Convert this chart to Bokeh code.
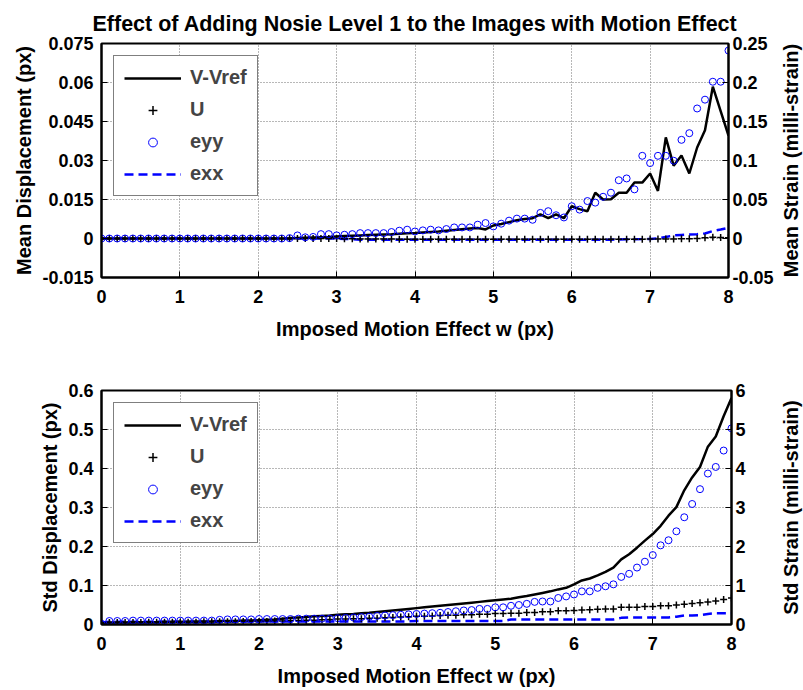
from bokeh.plotting import figure
from bokeh.layouts import column, row
from bokeh.models import (Range1d, LinearAxis, FixedTicker, CustomJSTickFormatter,
                          Legend, LegendItem, Title)
from bokeh.embed import file_html
from bokeh.resources import INLINE

# ---------------- data ----------------
w = [0.0, 0.1, 0.2, 0.3, 0.4, 0.5, 0.6, 0.7, 0.8, 0.9,
     1.0, 1.1, 1.2, 1.3, 1.4, 1.5, 1.6, 1.7, 1.8, 1.9,
     2.0, 2.1, 2.2, 2.3, 2.4, 2.5, 2.6, 2.7, 2.8, 2.9,
     3.0, 3.1, 3.2, 3.3, 3.4, 3.5, 3.6, 3.7, 3.8, 3.9,
     4.0, 4.1, 4.2, 4.3, 4.4, 4.5, 4.6, 4.7, 4.8, 4.9,
     5.0, 5.1, 5.2, 5.3, 5.4, 5.5, 5.6, 5.7, 5.8, 5.9,
     6.0, 6.1, 6.2, 6.3, 6.4, 6.5, 6.6, 6.7, 6.8, 6.9,
     7.0, 7.1, 7.2, 7.3, 7.4, 7.5, 7.6, 7.7, 7.8, 7.9, 8.0]

# Mean (top panel)
mean_v_vref = [0, 0, 0, 0, 0, 0, 0, 0, 0, 0,
               0, 0, 0, 0, 0, 0, 0, 0, 0, 0,
               0, 0, 0, 0, 0, 0.0002, 0.0003, 0.0004, 0.0005, 0.0006,
               0.0008, 0.001, 0.0011, 0.0012, 0.0013, 0.0014, 0.0015, 0.0016, 0.0018, 0.002,
               0.0021, 0.0023, 0.0025, 0.0027, 0.003, 0.0033, 0.0036, 0.0038, 0.004, 0.0035,
               0.005, 0.0056, 0.0063, 0.007, 0.0075, 0.0078, 0.0093, 0.0078, 0.0093, 0.0078,
               0.0124, 0.0113, 0.0105, 0.0176, 0.015, 0.0151, 0.0176, 0.0176, 0.0215, 0.0215,
               0.025, 0.0183, 0.0389, 0.028, 0.0319, 0.025, 0.035, 0.0416, 0.0584, 0.049, 0.0396]
mean_u = [0, 0, 0, 0, 0, 0, 0, 0, 0, 0,
          0, 0, 0, 0, 0, 0, 0, 0, 0, 0,
          0, 0, 0, 0, 0, 0, 0, 0, 0, 0,
          0, -0.0001, -0.0001, -0.0002, -0.0002, -0.0002, -0.0002, -0.0002, -0.0003, -0.0003,
          -0.0003, -0.0003, -0.0003, -0.0003, -0.0003, -0.0003, -0.0003, -0.0003, -0.0003, -0.0003,
          -0.0003, -0.0003, -0.0003, -0.0003, -0.0003, -0.0003, -0.0003, -0.0003, -0.0003, -0.0003,
          -0.0003, -0.0003, -0.0003, -0.0003, -0.0003, -0.0003, -0.0003, -0.0003, -0.0003, -0.0003,
          -0.0002, -0.0002, -0.0002, -0.0002, -0.0001, -0.0001, 0.0, 0.0003, 0.0005, 0.0004, 0.0003]
mean_eyy = [0, 0, 0, 0, 0, 0, 0, 0, 0, 0,
            0, 0, 0, 0, 0, 0, 0, 0, 0, 0,
            0, 0, 0, 0, 0.0005, 0.0039, 0.0015, 0.002, 0.0056, 0.0056,
            0.004, 0.0048, 0.0056, 0.0069, 0.0069, 0.0069, 0.0069, 0.0083, 0.010, 0.0113,
            0.009, 0.0104, 0.0113, 0.0104, 0.0121, 0.0142, 0.0142, 0.0142, 0.0177, 0.0198,
            0.0155, 0.019, 0.0229, 0.0255, 0.0255, 0.024, 0.0328, 0.035, 0.0298, 0.027,
            0.0414, 0.037, 0.048, 0.046, 0.0535, 0.0587, 0.0747, 0.077, 0.063, 0.106,
            0.0967, 0.106, 0.106, 0.0997, 0.1265, 0.135, 0.1667, 0.178, 0.201, 0.201, 0.241]
mean_exx = [0, 0, 0, 0, 0, 0, 0, 0, 0, 0,
            0, 0, 0, 0, 0, 0, 0, 0, 0, 0,
            0, 0, 0, 0, 0, 0, 0, 0, 0, 0,
            0, -0.0005, -0.001, -0.0017, -0.0017, -0.0017, -0.0017, -0.0017, -0.0017, -0.0017,
            -0.0017, -0.0017, -0.0017, -0.0017, -0.0017, -0.0017, -0.0017, -0.0017, -0.0017, -0.0017,
            -0.0017, -0.0017, -0.0017, -0.0017, -0.0017, -0.0017, -0.0017, -0.0017, -0.0017, -0.0017,
            -0.0017, -0.0017, -0.0017, -0.0015, -0.0015, -0.0015, -0.0012, -0.001, -0.001, -0.0008,
            -0.0005, 0.0, 0.002, 0.0039, 0.0045, 0.005, 0.0055, 0.0065, 0.0095, 0.0115, 0.0138]

# Std (bottom panel)
std_v_vref = [0.002, 0.005, 0.005, 0.005, 0.006, 0.006, 0.006, 0.006, 0.007, 0.007,
              0.007, 0.007, 0.008, 0.008, 0.008, 0.009, 0.009, 0.009, 0.010, 0.010,
              0.011, 0.012, 0.013, 0.015, 0.017, 0.018, 0.019, 0.021, 0.022, 0.023,
              0.025, 0.026, 0.027, 0.029, 0.030, 0.032, 0.034, 0.036, 0.038, 0.040,
              0.042, 0.044, 0.046, 0.048, 0.050, 0.052, 0.054, 0.056, 0.058, 0.060,
              0.062, 0.064, 0.066, 0.070, 0.073, 0.077, 0.081, 0.085, 0.090, 0.094,
              0.103, 0.113, 0.118, 0.126, 0.135, 0.146, 0.167, 0.180, 0.197, 0.215,
              0.232, 0.253, 0.279, 0.301, 0.344, 0.377, 0.404, 0.456, 0.482, 0.534, 0.581]
std_u = [0.004, 0.005, 0.005, 0.005, 0.005, 0.005, 0.006, 0.006, 0.006, 0.006,
         0.006, 0.006, 0.006, 0.007, 0.007, 0.007, 0.007, 0.007, 0.008, 0.008,
         0.008, 0.008, 0.009, 0.009, 0.010, 0.010, 0.011, 0.011, 0.012, 0.013,
         0.014, 0.014, 0.015, 0.015, 0.016, 0.016, 0.017, 0.018, 0.019, 0.020,
         0.021, 0.021, 0.022, 0.023, 0.024, 0.024, 0.025, 0.025, 0.026, 0.026,
         0.028, 0.028, 0.029, 0.029, 0.031, 0.031, 0.033, 0.033, 0.035, 0.035,
         0.036, 0.037, 0.038, 0.039, 0.040, 0.040, 0.044, 0.044, 0.044, 0.046,
         0.046, 0.048, 0.048, 0.050, 0.052, 0.054, 0.056, 0.058, 0.060, 0.064, 0.068]
std_eyy = [0.02, 0.09, 0.09, 0.09, 0.10, 0.10, 0.10, 0.10, 0.10, 0.10,
           0.10, 0.10, 0.10, 0.10, 0.10, 0.12, 0.13, 0.13, 0.13, 0.13,
           0.14, 0.14, 0.14, 0.14, 0.14, 0.15, 0.15, 0.15, 0.15, 0.15,
           0.16, 0.17, 0.18, 0.19, 0.20, 0.22, 0.23, 0.24, 0.25, 0.26,
           0.27, 0.28, 0.29, 0.30, 0.32, 0.34, 0.36, 0.37, 0.40, 0.40,
           0.44, 0.44, 0.48, 0.50, 0.53, 0.58, 0.59, 0.59, 0.68, 0.72,
           0.77, 0.85, 0.85, 0.94, 0.98, 1.03, 1.22, 1.30, 1.46, 1.61,
           1.78, 2.03, 2.16, 2.39, 2.75, 3.09, 3.47, 3.87, 4.04, 4.46, 5.03]
std_exx = [0.05, 0.07, 0.07, 0.07, 0.07, 0.07, 0.07, 0.07, 0.07, 0.07,
           0.07, 0.07, 0.07, 0.07, 0.07, 0.08, 0.08, 0.08, 0.08, 0.08,
           0.08, 0.08, 0.08, 0.08, 0.08, 0.08, 0.08, 0.08, 0.08, 0.08,
           0.08, 0.08, 0.08, 0.08, 0.08, 0.08, 0.08, 0.08, 0.08, 0.08,
           0.09, 0.09, 0.09, 0.09, 0.09, 0.09, 0.09, 0.09, 0.09, 0.09,
           0.09, 0.09, 0.13, 0.13, 0.13, 0.13, 0.13, 0.13, 0.13, 0.13,
           0.13, 0.13, 0.13, 0.13, 0.13, 0.13, 0.17, 0.18, 0.18, 0.18,
           0.18, 0.18, 0.18, 0.20, 0.23, 0.23, 0.24, 0.27, 0.29, 0.29, 0.29]

x_ticks = [0, 1, 2, 3, 4, 5, 6, 7, 8]
top_left_ticks = [-0.015, 0, 0.015, 0.03, 0.045, 0.06, 0.075]
top_right_ticks = [-0.05, 0, 0.05, 0.1, 0.15, 0.2, 0.25]
bot_left_ticks = [0, 0.1, 0.2, 0.3, 0.4, 0.5, 0.6]
bot_right_ticks = [0, 1, 2, 3, 4, 5, 6]

title_text = "Effect of Adding Nosie Level 1 to the Images with Motion Effect"
x_label = "Imposed Motion Effect w (px)"
top_left_label = "Mean Displacement (px)"
top_right_label = "Mean Strain (milli-strain)"
bot_left_label = "Std Displacement (px)"
bot_right_label = "Std Strain (milli-strain)"
series_names = ["V-Vref", "U", "eyy", "exx"]

FONT = "Liberation Sans"
BLUE = "#0000FF"
FRAME_H = 234
MAIN_W = 776
SIDE_W = 27

fmt = CustomJSTickFormatter(code="return String(Number(tick.toFixed(4)));")


def style_axis(ax, label, ticks, standoff, label_standoff):
    if label:
        ax.axis_label = label
    ax.ticker = FixedTicker(ticks=ticks)
    ax.formatter = fmt
    ax.axis_label_text_font = FONT
    ax.axis_label_text_font_style = "bold"
    ax.axis_label_text_font_size = "20px"
    ax.axis_label_text_color = "black"
    ax.axis_label_standoff = standoff
    ax.major_label_text_font = FONT
    ax.major_label_text_font_style = "bold"
    ax.major_label_text_font_size = "18px"
    ax.major_label_text_color = "black"
    ax.axis_line_color = "black"
    ax.axis_line_width = 2
    ax.major_tick_in = 6
    ax.major_tick_out = 0
    ax.major_tick_line_color = "black"
    ax.minor_tick_line_color = None
    ax.major_label_standoff = label_standoff


def make_panel(top_border, height, yl, yr, lt, rt, llab, d_v, d_u, d_eyy, d_exx, title=None):
    kw = dict(width=MAIN_W, height=height, output_backend="svg", toolbar_location=None,
              x_range=Range1d(0, 8), y_range=Range1d(*yl),
              min_border_left=101, min_border_right=MAIN_W - 101 - 630,
              min_border_top=top_border, min_border_bottom=height - top_border - FRAME_H)
    if title:
        kw["title"] = title
    p = figure(**kw)
    p.extra_y_ranges = {"strain": Range1d(*yr)}
    p.xaxis.visible = False
    p.yaxis.visible = False
    xa = LinearAxis()
    style_axis(xa, x_label, x_ticks, 12, 12)
    p.add_layout(xa, "below")
    la = LinearAxis()
    style_axis(la, llab, lt, 4, 8)
    p.add_layout(la, "left")
    ra = LinearAxis(y_range_name="strain")
    style_axis(ra, None, rt, 0, 4)
    p.add_layout(ra, "right")

    p.xgrid.ticker = FixedTicker(ticks=x_ticks)
    p.ygrid.ticker = FixedTicker(ticks=lt)
    for g in (p.xgrid, p.ygrid):
        g.grid_line_color = "#707070"
        g.grid_line_dash = "1 2"
        g.grid_line_width = 1
    p.outline_line_color = "black"
    p.outline_line_width = 2
    p.background_fill_color = "white"
    p.border_fill_color = "white"

    r_exx = p.line(w, d_exx, y_range_name="strain", line_color=BLUE, line_width=2.5,
                   line_dash="9 5")
    r_v = p.line(w, d_v, line_color="black", line_width=2.5)
    r_u = p.scatter(w, d_u, marker="cross", size=7, line_color="black", line_width=1.5)
    r_eyy = p.scatter(w, d_eyy, y_range_name="strain", marker="circle", size=7,
                      fill_color=None, line_color=BLUE, line_width=1)

    leg = Legend(items=[LegendItem(label=series_names[0], renderers=[r_v]),
                        LegendItem(label=series_names[1], renderers=[r_u]),
                        LegendItem(label=series_names[2], renderers=[r_eyy]),
                        LegendItem(label=series_names[3], renderers=[r_exx])],
                 location="top_left")
    leg.margin = 12
    leg.padding = 10
    leg.spacing = 9
    leg.glyph_width = 57
    leg.glyph_height = 22
    leg.label_height = 22
    leg.label_standoff = 9
    leg.label_text_font = FONT
    leg.label_text_font_style = "bold"
    leg.label_text_font_size = "20px"
    leg.border_line_color = "black"
    leg.border_line_width = 1.5
    leg.background_fill_alpha = 1
    p.add_layout(leg, "center")
    return p


def side_label(top_border, height, text):
    # narrow companion figure whose left-side title reads bottom-to-top,
    # acting as the right-hand axis title
    s = figure(width=SIDE_W, height=height, output_backend="svg", toolbar_location=None,
               x_range=Range1d(0, 1), y_range=Range1d(0, 1),
               min_border_left=SIDE_W - 2, min_border_right=0,
               min_border_top=top_border, min_border_bottom=height - top_border - FRAME_H)
    s.axis.visible = False
    s.grid.visible = False
    s.outline_line_color = None
    s.background_fill_color = "white"
    s.border_fill_color = "white"
    s.add_layout(Title(text=text, align="center", text_font=FONT, text_font_style="bold",
                       text_font_size="20px", text_color="black", standoff=0, offset=0),
                 "left")
    return s


p1 = make_panel(43, 345, (-0.015, 0.075), (-0.05, 0.25), top_left_ticks, top_right_ticks,
                top_left_label, mean_v_vref, mean_u, mean_eyy, mean_exx,
                title=title_text)
p1.title.align = "center"
p1.title.text_font = FONT
p1.title.text_font_style = "bold"
p1.title.text_font_size = "21.5px"
p1.title.text_color = "black"
p1.title.standoff = 16
s1 = side_label(43, 345, top_right_label)

p2 = make_panel(45, 345, (0, 0.6), (0, 6), bot_left_ticks, bot_right_ticks,
                bot_left_label, std_v_vref, std_u, std_eyy, std_exx)
s2 = side_label(45, 345, bot_right_label)

layout = column(row(p1, s1, spacing=0), row(p2, s2, spacing=0), spacing=0)
open("out.html", "w").write(file_html(layout, INLINE))
